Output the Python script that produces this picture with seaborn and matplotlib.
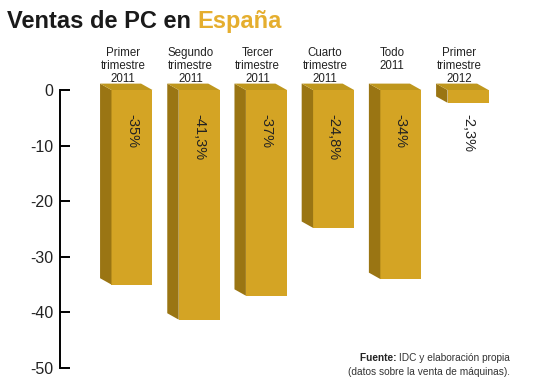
import matplotlib
matplotlib.use("Agg")
import matplotlib.pyplot as plt
from matplotlib.patches import Polygon
import seaborn as sns

# data
categories = ["Primer\ntrimestre\n2011", "Segundo\ntrimestre\n2011", "Tercer\ntrimestre\n2011",
              "Cuarto\ntrimestre\n2011", "Todo\n2011", "Primer\ntrimestre\n2012"]
values = [-35, -41.3, -37, -24.8, -34, -2.3]
value_labels = ["-35%", "-41,3%", "-37%", "-24,8%", "-34%", "-2,3%"]
yticks = [0, -10, -20, -30, -40, -50]

front = "#D4A424"
side = "#9A7513"
top = "#BF971D"
gold = "#E5AE2E"

sns.set_theme(style="white")
plt.rcParams["font.family"] = ["Liberation Sans", "DejaVu Sans"]

fig = plt.figure(figsize=(5.5, 3.9), dpi=100)
ax = fig.add_axes([60 / 550, 1 - 368 / 390, 480 / 550, 278 / 390])

sns.barplot(x=list(range(len(values))), y=values, color=front, saturation=1,
            width=0.61, ax=ax, edgecolor="none")

ax.set_xlim(-1.071, 6.071)
ax.set_ylim(-50, 0)

# fake 3d depth: left side and top face (offset in data units)
dx, dy = -0.17, 1.15
for p in ax.patches:
    x0 = p.get_x()
    x1 = x0 + p.get_width()
    h = p.get_height()
    ax.add_patch(Polygon([(x0, 0), (x0, h), (x0 + dx, h + dy), (x0 + dx, dy)],
                         closed=True, facecolor=side, edgecolor="none", clip_on=False))
    ax.add_patch(Polygon([(x0, 0), (x1, 0), (x1 + dx, dy), (x0 + dx, dy)],
                         closed=True, facecolor=top, edgecolor="none", clip_on=False))
    p.set_clip_on(False)

# value labels, vertical, near top of the bars
for i, lab in enumerate(value_labels):
    ax.text(i, -4.3, lab, rotation=-90, ha="center", va="top",
            fontsize=10.5, color="#222222", clip_on=False)

# category labels above the bars
for i, cat in enumerate(categories):
    ax.text(i - 0.13, 7.8, cat, ha="center", va="top", fontsize=8.3,
            color="#222222", linespacing=1.12, clip_on=False)

# axis styling
sns.despine(ax=ax, top=True, right=True, bottom=True, left=False)
ax.spines["left"].set_color("black")
ax.spines["left"].set_linewidth(1.4)
ax.set_xticks([])
ax.set_yticks(yticks)
ax.set_yticklabels([str(t) for t in yticks])
ax.tick_params(axis="y", direction="in", length=7, width=1.4, color="black",
               pad=5, labelsize=11.5, labelcolor="#222222", left=True)
ax.set_xlabel("")
ax.set_ylabel("")

# title in two colours
t1 = fig.text(7 / 550, 1 - 28 / 390, "Ventas de PC en", fontsize=17, weight="bold",
              color="#1a1a1a", ha="left", va="baseline")
ax.annotate("España", xy=(1, 1 - 28 / 390), xycoords=(t1, "figure fraction"),
            xytext=(4.5, 0), textcoords="offset points", fontsize=17, weight="bold",
            color=gold, ha="left", va="baseline", annotation_clip=False)

# source note
s1 = fig.text(510 / 550, 1 - 358 / 390, "IDC y elaboración propia", fontsize=7.3,
              color="#333333", ha="right", va="center")
ax.annotate("Fuente: ", xy=(0, 0.5), xycoords=s1, fontsize=7.3, weight="bold",
            color="#222222", ha="right", va="center", annotation_clip=False)
fig.text(510 / 550, 1 - 372 / 390, "(datos sobre la venta de máquinas).", fontsize=7.3,
         color="#333333", ha="right", va="center")

fig.savefig("out.png", dpi=100)
